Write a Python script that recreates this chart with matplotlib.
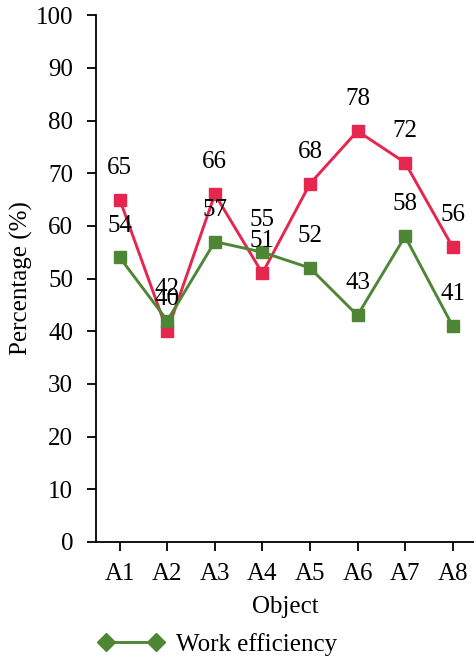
import matplotlib
matplotlib.use("Agg")
from matplotlib import pyplot as plt
from matplotlib.lines import Line2D
import numpy as np

# data
objects = ["A1", "A2", "A3", "A4", "A5", "A6", "A7", "A8"]
red_vals = [65, 40, 66, 51, 68, 78, 72, 56]
work_eff = [54, 42, 57, 55, 52, 43, 58, 41]

red_color = "#E6264F"
green_color = "#4E8636"

plt.rcParams["font.family"] = ["Liberation Serif", "DejaVu Serif"]

fig = plt.figure(figsize=(4.74, 6.6), dpi=100)
ax = fig.add_axes([0.2025, 0.179, 0.7975, 0.798])

x = np.arange(len(objects))

ax.plot(x, red_vals, color=red_color, linewidth=2.1, marker="s",
        markersize=8.5, label="_nolegend_")
ax.plot(x, work_eff, color=green_color, linewidth=2.1, marker="s",
        markersize=8.5, label="Work efficiency")

# value labels above each point
for xi, v in zip(x, red_vals):
    ax.annotate(str(v), (xi, v), xytext=(0, 23), textcoords="offset points",
                ha="center", va="center", fontsize=18)
for xi, v in zip(x, work_eff):
    ax.annotate(str(v), (xi, v), xytext=(0, 23), textcoords="offset points",
                ha="center", va="center", fontsize=18)

ax.set_xlim(-0.5, 7.45)
ax.set_ylim(0, 100)
ax.set_yticks(np.arange(0, 101, 10))
ax.set_xticks(x)
ax.set_xticklabels(objects)

for side in ["top", "right"]:
    ax.spines[side].set_visible(False)
for side in ["left", "bottom"]:
    ax.spines[side].set_linewidth(1.3)
ax.tick_params(axis="both", direction="out", length=6.5, width=1.3,
               labelsize=18)
ax.tick_params(axis="y", pad=10)
ax.tick_params(axis="x", pad=9)

ax.set_xlabel("Object", fontsize=18, labelpad=8)
ax.set_ylabel("Percentage (%)", fontsize=18, labelpad=2)

handle = Line2D([0], [0], color=green_color, linewidth=2.1, marker="D",
                markersize=9)
fig.legend([handle], ["Work efficiency"], loc="center left",
           bbox_to_anchor=(0.16, 0.024), frameon=False, fontsize=18,
           numpoints=2, handlelength=2.6, handletextpad=0.5)

fig.savefig("out.png", dpi=100)
